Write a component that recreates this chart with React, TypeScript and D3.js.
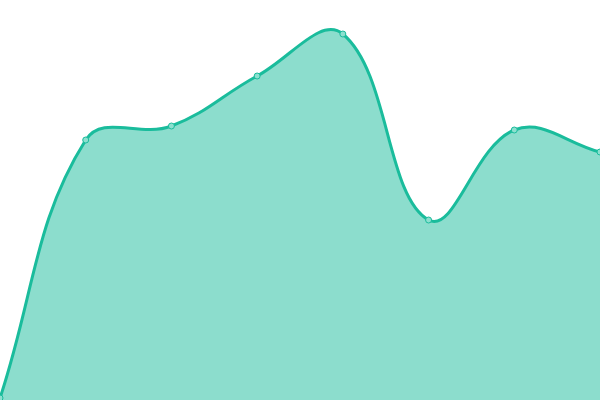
import React from 'react';
import * as d3 from 'd3';

// categories along x (scale 0..100)
const labels: string[] = ['A', 'B', 'C', 'D', 'E', 'F', 'G', 'H'];
const values: number[] = [0.5, 65, 68.5, 81, 91.5, 45, 67.5, 62];

const w = 600;
const h = 400;
const lineColor = '#1abc9c';
const areaColor = 'rgba(26, 188, 156, 0.5)';

interface Pt {
  label: string;
  value: number;
}

// spline like the one Chart.js draws (tension 0.4)
const splineCurve = (context: any) => {
  let pts: [number, number][] = [];
  let line = NaN;
  const tension = 0.4;
  return {
    areaStart() {
      line = 0;
    },
    areaEnd() {
      line = NaN;
    },
    lineStart() {
      pts = [];
    },
    point(x: number, y: number) {
      pts.push([+x, +y]);
    },
    lineEnd() {
      const n = pts.length;
      if (n) {
        line ? context.lineTo(pts[0][0], pts[0][1]) : context.moveTo(pts[0][0], pts[0][1]);
        // control points per point
        const cps = pts.map((p, i) => {
          const prev = pts[i - 1] || p;
          const next = pts[i + 1] || p;
          const d01 = Math.hypot(p[0] - prev[0], p[1] - prev[1]);
          const d12 = Math.hypot(next[0] - p[0], next[1] - p[1]);
          let s01 = d01 / (d01 + d12);
          let s12 = d12 / (d01 + d12);
          s01 = isNaN(s01) ? 0 : s01;
          s12 = isNaN(s12) ? 0 : s12;
          const fa = tension * s01;
          const fb = tension * s12;
          return {
            px: p[0] - fa * (next[0] - prev[0]),
            py: p[1] - fa * (next[1] - prev[1]),
            nx: p[0] + fb * (next[0] - prev[0]),
            ny: p[1] + fb * (next[1] - prev[1]),
          };
        });
        for (let i = 1; i < n; i++) {
          context.bezierCurveTo(cps[i - 1].nx, cps[i - 1].ny, cps[i].px, cps[i].py, pts[i][0], pts[i][1]);
        }
      }
      if (line || (line !== 0 && n === 1)) context.closePath();
      line = 1 - line;
    },
  };
};

const App = () => {
  const data: Pt[] = labels.map((label, i) => ({ label, value: values[i] }));

  const xScale = d3.scalePoint<string>().domain(labels).range([0, w]);
  const yScale = d3.scaleLinear().domain([0, 100]).range([h, 0]);

  const line = d3
    .line<Pt>()
    .x((d) => xScale(d.label) as number)
    .y((d) => yScale(d.value))
    .curve(splineCurve as any);

  const area = d3
    .area<Pt>()
    .x((d) => xScale(d.label) as number)
    .y0(h)
    .y1((d) => yScale(d.value))
    .curve(splineCurve as any);

  return (
    <svg
      width={w}
      height={h}
      style={{ position: 'absolute', left: 0, top: 0, backgroundColor: '#fff' }}
    >
      <path d={area(data) || ''} fill={areaColor} stroke="none" />
      <path d={line(data) || ''} fill="none" stroke={lineColor} strokeWidth={3} />
      {data.map((d) => (
        <circle
          key={d.label}
          cx={xScale(d.label)}
          cy={yScale(d.value)}
          r={3}
          fill="#8ce0cf"
          stroke={lineColor}
          strokeWidth={1}
        />
      ))}
    </svg>
  );
};

export default App;
